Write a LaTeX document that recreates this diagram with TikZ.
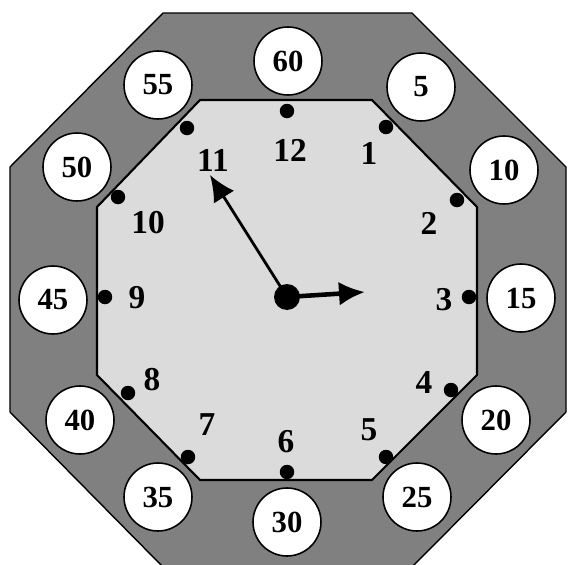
\documentclass[tikz,border=0pt]{standalone}
\usepackage{fontspec}
\setmainfont{Liberation Serif}
\usepackage{tikz}
\usetikzlibrary{arrows.meta}

\begin{document}
\begin{tikzpicture}[x=0.02cm, y=-0.02cm,
  minute/.style={draw, circle, fill=white, line width=0.9pt, minimum size=1.36cm, inner sep=0pt, font=\fontsize{17.5}{17.5}\selectfont\bfseries},
  tick/.style={circle, fill=black, minimum size=0.29cm, inner sep=0pt},
  hournum/.style={font=\fontsize{19}{19}\selectfont\bfseries, inner sep=0pt},
  hand/.style={-{Latex[length=0.52cm, width=0.48cm]}}]

\useasboundingbox (0,0) rectangle (569,565);

% Frame
\filldraw[fill=black!50, draw=black, line width=0.8pt]
  (163,13) -- (412,13) -- (566,167) -- (566,412) -- (412,567) -- (163,567) -- (10,412) -- (10,167) -- cycle;
\filldraw[fill=black!14, draw=black, line width=1.2pt]
  (200,100) -- (372,100) -- (477,207) -- (477,375) -- (372,480) -- (200,480) -- (97,375) -- (97,207) -- cycle;

% Minute circles
\node[minute] (m60) at (288,61) {60};
\node[minute] (m5)  at (421,87) {5};
\node[minute] (m10) at (504,170) {10};
\node[minute] (m15) at (521,298) {15};
\node[minute] (m20) at (496,420) {20};
\node[minute] (m25) at (417,497) {25};
\node[minute] (m30) at (287,522) {30};
\node[minute] (m35) at (158,497) {35};
\node[minute] (m40) at (80,420) {40};
\node[minute] (m45) at (53,300) {45};
\node[minute] (m50) at (77,167) {50};
\node[minute] (m55) at (158,85) {55};

% Ticks
\node[tick] (t12) at (287,111) {};
\node[tick] (t1)  at (386,127) {};
\node[tick] (t2)  at (457,200) {};
\node[tick] (t3)  at (469,297) {};
\node[tick] (t4)  at (451,390) {};
\node[tick] (t5)  at (386,457) {};
\node[tick] (t6)  at (287,472) {};
\node[tick] (t7)  at (188,457) {};
\node[tick] (t8)  at (128,393) {};
\node[tick] (t9)  at (105,297) {};
\node[tick] (t10) at (118,197) {};
\node[tick] (t11) at (187,128) {};

% Hour numbers
\node[hournum] (n12) at (290,150) {12};
\node[hournum] (n1)  at (369,153) {1};
\node[hournum] (n2)  at (429,223) {2};
\node[hournum] (n3)  at (444,300) {3};
\node[hournum] (n4)  at (424,383) {4};
\node[hournum] (n5)  at (369,430) {5};
\node[hournum] (n6)  at (286,442) {6};
\node[hournum] (n7)  at (207,425) {7};
\node[hournum] (n8)  at (152,380) {8};
\node[hournum] (n9)  at (137,298) {9};
\node[hournum] (n10) at (148,223) {10};
\node[hournum] (n11) at (213,160) {11};

% Hands
\coordinate (hourtip) at (365,292);
\coordinate (mintip) at (210,175);
\node[circle, fill=black, minimum size=0.52cm, inner sep=0pt] (hub) at (287,297) {};
\draw[hand, line width=2.6pt] (hub.center) -- (hourtip);
\draw[hand, line width=1.6pt] (hub.center) -- (mintip);

\end{tikzpicture}
\end{document}
